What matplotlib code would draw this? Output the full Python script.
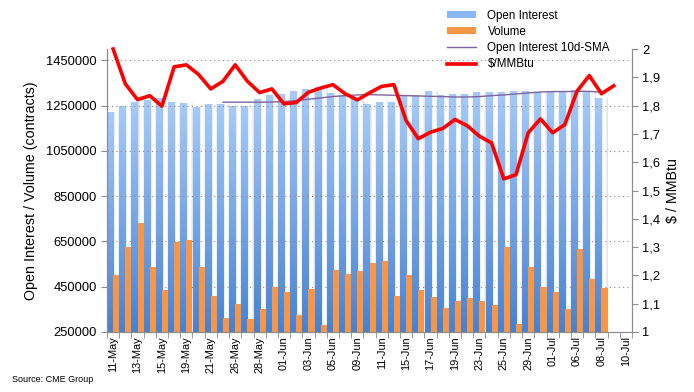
import numpy as np
import matplotlib
matplotlib.use("Agg")
import matplotlib.pyplot as plt
from matplotlib.colors import LinearSegmentedColormap
from matplotlib.lines import Line2D
from matplotlib.patches import Patch
from matplotlib.ticker import FuncFormatter

DATES = [
    "11-May", "12-May", "13-May", "14-May", "15-May", "18-May", "19-May", "20-May",
    "21-May", "22-May", "26-May", "27-May", "28-May", "29-May", "01-Jun", "02-Jun",
    "03-Jun", "04-Jun", "05-Jun", "08-Jun", "09-Jun", "10-Jun", "11-Jun", "12-Jun",
    "15-Jun", "16-Jun", "17-Jun", "18-Jun", "19-Jun", "22-Jun", "23-Jun", "24-Jun",
    "25-Jun", "26-Jun", "29-Jun", "30-Jun", "01-Jul", "02-Jul", "06-Jul", "07-Jul",
    "08-Jul", "09-Jul", "10-Jul",
]

OPEN_INTEREST = [
    1221000, 1250000, 1268000, 1276000, 1285000, 1268000, 1263000, 1246000,
    1259000, 1259000, 1250000, 1250000, 1281000, 1298000, 1303000, 1316000,
    1325000, 1334000, 1306000, 1297000, 1279000, 1257000, 1266000, 1266000,
    1292000, 1297000, 1316000, 1298000, 1303000, 1303000, 1312000, 1312000,
    1312000, 1316000, 1316000, 1312000, 1316000, 1312000, 1321000, 1312000,
    1285000,
]

VOLUME = [
    500000, 623500, 729400, 535300, 433800, 645600, 654400, 535300,
    407400, 311800, 372100, 307400, 350000, 447000, 425000, 323500,
    438200, 279400, 522000, 504400, 517600, 552900, 561800, 407400,
    500000, 433800, 402900, 354400, 385300, 398500, 385300, 367600,
    623500, 283800, 535300, 450000, 425000, 350000, 614700, 483800,
    442600,
]

OI_SMA = [np.nan] * 9 + [
    1265000, 1265000, 1265000, 1265000, 1266000, 1268000, 1272000, 1278000,
    1284000, 1290000, 1294000, 1297000, 1298500, 1297000, 1295500, 1294000,
    1292500, 1291000, 1290000, 1288000, 1288000, 1290000, 1294000, 1297000,
    1301500, 1306000, 1310000, 1312000, 1312000, 1313000, 1313000, 1309000,
]

PRICE = [
    2.00, 1.877, 1.821, 1.835, 1.798, 1.937, 1.944, 1.910, 1.859, 1.886,
    1.944, 1.886, 1.846, 1.859, 1.806, 1.811, 1.847, 1.862, 1.874, 1.842,
    1.820, 1.845, 1.868, 1.874, 1.747, 1.683, 1.706, 1.719, 1.751, 1.729,
    1.692, 1.668, 1.541, 1.556, 1.704, 1.753, 1.704, 1.733, 1.851, 1.906,
    1.842, 1.870,
]

LEFT_TICKS = [250000, 450000, 650000, 850000, 1050000, 1250000, 1450000]
RIGHT_TICKS = [1.0, 1.1, 1.2, 1.3, 1.4, 1.5, 1.6, 1.7, 1.8, 1.9, 2.0]

plt.rcParams["font.family"] = ["Liberation Sans", "DejaVu Sans"]

BLUE_TOP = "#a6cbfa"
BLUE_BOTTOM = "#4682d2"
ORANGE = "#f79646"
PURPLE = "#8064a2"
RED = "#ff0000"
AXIS_GREY = "#8c8c8c"

fig = plt.figure(figsize=(6.94, 3.92), dpi=100)
ax = fig.add_axes([107 / 694, 60 / 392, 525 / 694, 283 / 392])
ax2 = ax.twinx()

ymin, ymax = 250000, 1500000
n_cat = len(DATES)
x_oi = np.arange(len(OPEN_INTEREST))
x_vol = np.arange(len(VOLUME))

blue_cmap = LinearSegmentedColormap.from_list("blue", [BLUE_BOTTOM, BLUE_TOP])
shadow_cmap = LinearSegmentedColormap.from_list("shadow", ["#d6d6d6", "#ffffff", "#ffffff", "#dcdcdc"])
vgrad = np.linspace(0, 1, 256).reshape(-1, 1)
hgrad = np.linspace(0, 1, 64).reshape(1, -1)

# soft shadow column behind each open-interest bar
shadows = ax.bar(x_oi + 0.25, OPEN_INTEREST, width=0.5, color="#f2f2f2", linewidth=0, zorder=1)
for rect in shadows:
    x0, w, h = rect.get_x(), rect.get_width(), rect.get_height()
    im = ax.imshow(hgrad, extent=[x0, x0 + w, ymin, h], aspect="auto", cmap=shadow_cmap,
                   origin="lower", zorder=1.1, interpolation="bilinear")
    im.set_clip_path(rect)

oi_bars = ax.bar(x_oi - 0.22, OPEN_INTEREST, width=0.55, color=BLUE_TOP, linewidth=0, zorder=2)
for rect in oi_bars:
    x0, w, h = rect.get_x(), rect.get_width(), rect.get_height()
    im = ax.imshow(vgrad, extent=[x0, x0 + w, ymin, h], aspect="auto", cmap=blue_cmap,
                   origin="lower", zorder=2.1, interpolation="bilinear")
    im.set_clip_path(rect)

ax.bar(x_vol + 0.25, VOLUME, width=0.5, color=ORANGE, linewidth=0, zorder=3)
ax.plot(np.arange(len(OI_SMA)), OI_SMA, color=PURPLE, linewidth=1.0, zorder=4)

ax.set_xlim(-0.5, n_cat - 0.5)
ax.set_ylim(ymin, ymax)
ax.set_yticks(LEFT_TICKS)
ax.set_yticklabels([str(v) for v in LEFT_TICKS])
ax.set_xticks(np.arange(0, n_cat, 2))
ax.set_xticklabels(DATES[::2], rotation=90, fontsize=7.9)
ax.set_xticks(np.arange(n_cat + 1) - 0.5, minor=True)
ax.tick_params(axis="x", which="major", length=0, pad=3)
ax.tick_params(axis="x", which="minor", length=4, color=AXIS_GREY)
ax.tick_params(axis="y", length=4, color=AXIS_GREY, labelsize=9.3)
ax.grid(axis="y", linestyle=(0, (1, 3)), color="#8a8a8a", linewidth=0.8)
ax.set_axisbelow(False)
for gl in ax.get_ygridlines():
    gl.set_zorder(0.5)
ax.set_ylabel("Open Interest / Volume (contracts)", fontsize=10.3, labelpad=6)

ax2.plot(np.arange(len(PRICE)), PRICE, color=RED, linewidth=2.6, zorder=5, clip_on=False)
ax2.set_ylim(1.0, 2.0)
ax2.set_yticks(RIGHT_TICKS)
ax2.yaxis.set_major_formatter(FuncFormatter(lambda v, _: f"{v:g}".replace(".", ",")))
ax2.tick_params(axis="y", length=4, color=AXIS_GREY, labelsize=9.3)
ax2.set_ylabel("$ / MMBtu", fontsize=10.3, labelpad=4)

for a in (ax, ax2):
    a.spines["top"].set_visible(False)
    for side in ("left", "right", "bottom"):
        a.spines[side].set_color(AXIS_GREY)

handles = [
    Patch(facecolor="#8ab8f4", edgecolor="none"),
    Patch(facecolor=ORANGE, edgecolor="none"),
    Line2D([], [], color=PURPLE, linewidth=1.0),
    Line2D([], [], color=RED, linewidth=2.6),
]
labels = ["Open Interest", "Volume", "Open Interest 10d-SMA", "$/MMBtu"]
fig.legend(handles, labels, loc="upper left", bbox_to_anchor=(442 / 694, 1 - 5 / 392),
           frameon=False, fontsize=8.4, handlelength=2.5, handleheight=0.5,
           handletextpad=1.0, labelspacing=0.36, borderaxespad=0)

fig.text(12 / 694, 1 - 379 / 392, "Source: CME Group", fontsize=6.5, va="center")

fig.savefig("out.png", dpi=100)
